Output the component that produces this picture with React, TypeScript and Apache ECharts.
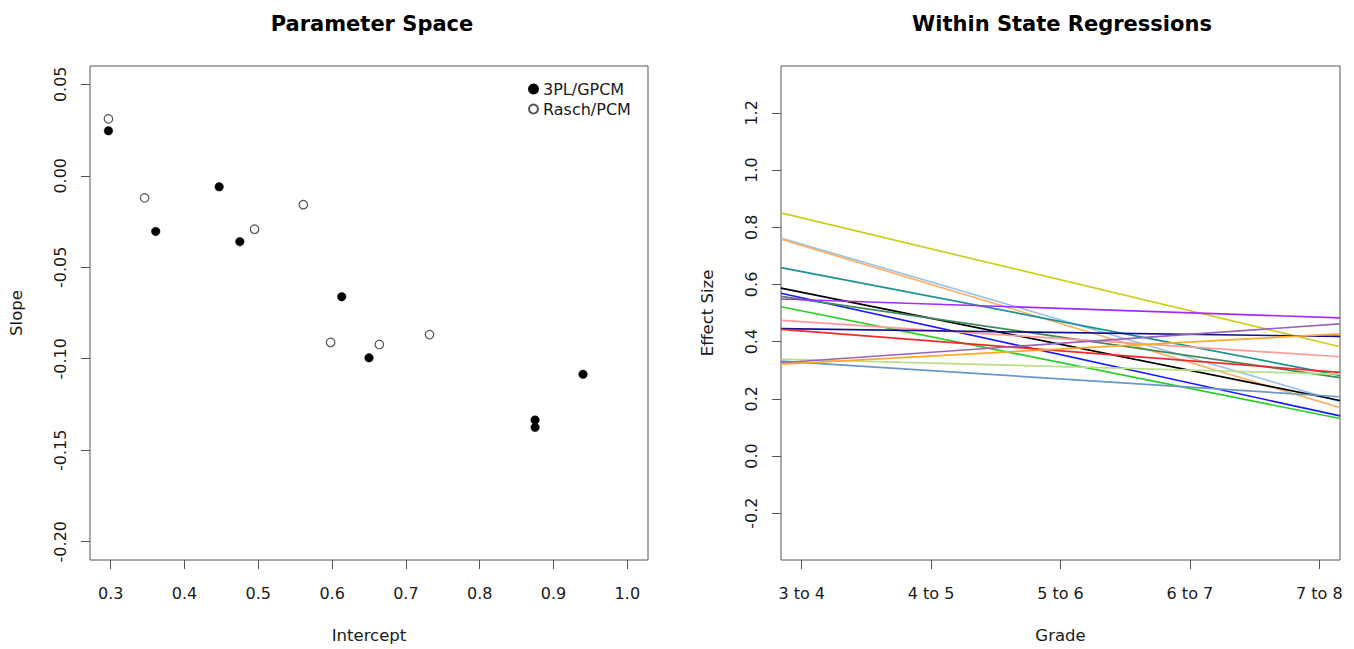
import React, { useEffect, useRef } from "react";
import * as echarts from "echarts";

// ---------- Data ----------
const LEFT_TITLE = "Parameter Space";
const RIGHT_TITLE = "Within State Regressions";

const INTERCEPT_TICKS = [0.3, 0.4, 0.5, 0.6, 0.7, 0.8, 0.9, 1.0];
const SLOPE_TICKS = [-0.2, -0.15, -0.1, -0.05, 0.0, 0.05];

const GPCM_INTERCEPT = [0.297, 0.361, 0.447, 0.475, 0.613, 0.65, 0.875, 0.875, 0.94];
const GPCM_SLOPE = [0.0246, -0.0304, -0.006, -0.036, -0.0661, -0.0995, -0.1335, -0.1375, -0.1085];

const RASCH_INTERCEPT = [0.297, 0.346, 0.495, 0.561, 0.598, 0.664, 0.732];
const RASCH_SLOPE = [0.0311, -0.0121, -0.0292, -0.0158, -0.0911, -0.0922, -0.0868];

const GRADE_LABELS = ["3 to 4", "4 to 5", "5 to 6", "6 to 7", "7 to 8"];
const GRADE_POS = [1, 2, 3, 4, 5];
const EFFECT_TICKS = [-0.2, 0.0, 0.2, 0.4, 0.6, 0.8, 1.0, 1.2];

// regression lines, values where each line meets the left and right plot edges
const LINE_COLORS = [
  "#CDCD1F", "#9CC4E4", "#FDB26B", "#199393", "#000000", "#1A1AFF", "#3D8B5A", "#A52AFF",
  "#25D025", "#FF9A9A", "#10108A", "#F02A2A", "#B8E08A", "#6A98C8", "#9B62B8", "#FFA92A",
];
const LINE_START = [0.85, 0.762, 0.758, 0.659, 0.587, 0.569, 0.558, 0.549, 0.522, 0.474, 0.445, 0.443, 0.339, 0.332, 0.326, 0.321];
const LINE_END = [0.382, 0.19, 0.169, 0.282, 0.194, 0.14, 0.274, 0.483, 0.131, 0.347, 0.418, 0.292, 0.286, 0.207, 0.462, 0.427];

// ---------- Axis ranges (R style 4% padding) ----------
const LX_MIN = 0.272, LX_MAX = 1.028;
const LY_MIN = -0.21, LY_MAX = 0.06;
const RX_MIN = 0.84, RX_MAX = 5.16;
const RY_MIN = -0.364, RY_MAX = 1.364;

const FONT = "DejaVu Sans, Verdana, sans-serif";
const BOX = "#555555";
const TXT = "#1a1a1a";

export default function App() {
  const ref = useRef<HTMLDivElement>(null);

  useEffect(() => {
    if (!ref.current) return;
    const chart = echarts.init(ref.current, undefined, { renderer: "svg" });

    const tickStyle = { show: true, length: 9, inside: false, lineStyle: { color: BOX, width: 1 } };
    const labelBase = { color: TXT, fontSize: 16, fontFamily: FONT };
    const nameBase = { color: TXT, fontSize: 16.5, fontFamily: FONT };
    const noLine = { show: false, onZero: false };

    const lineSeries = LINE_COLORS.map((c, i) => ({
      type: "line",
      xAxisIndex: 1,
      yAxisIndex: 1,
      data: [
        [RX_MIN, LINE_START[i]],
        [RX_MAX, LINE_END[i]],
      ],
      symbol: "none",
      lineStyle: { color: c, width: 1.7 },
      silent: true,
      z: 2,
    }));

    const option: any = {
      animation: false,
      backgroundColor: "#ffffff",
      title: [
        {
          text: LEFT_TITLE,
          left: 367,
          top: 8,
          textAlign: "center",
          textStyle: { fontFamily: FONT, fontWeight: "bold", fontSize: 21, color: "#000" },
        },
        {
          text: RIGHT_TITLE,
          left: 1057,
          top: 8,
          textAlign: "center",
          textStyle: { fontFamily: FONT, fontWeight: "bold", fontSize: 21, color: "#000" },
        },
      ],
      legend: {
        left: 523,
        top: 76,
        orient: "vertical",
        itemWidth: 9,
        itemHeight: 9,
        itemGap: 4,
        textStyle: { fontFamily: FONT, fontSize: 16, color: TXT, lineHeight: 16 },
        data: ["3PL/GPCM", "Rasch/PCM"],
      },
      grid: [
        { left: 90, top: 66, width: 558, height: 496, show: true, borderColor: BOX, borderWidth: 1, backgroundColor: "#fff" },
        { left: 781, top: 66, width: 559, height: 496, show: true, borderColor: BOX, borderWidth: 1, backgroundColor: "#fff" },
      ],
      xAxis: [
        {
          type: "value",
          gridIndex: 0,
          min: LX_MIN,
          max: LX_MAX,
          axisLine: noLine,
          splitLine: { show: false },
          axisTick: { ...tickStyle, customValues: INTERCEPT_TICKS },
          axisLabel: { ...labelBase, margin: 25, customValues: INTERCEPT_TICKS, formatter: (v: number) => v.toFixed(1) },
          name: "Intercept",
          nameLocation: "middle",
          nameGap: 67,
          nameTextStyle: nameBase,
        },
        {
          type: "value",
          gridIndex: 1,
          min: RX_MIN,
          max: RX_MAX,
          axisLine: noLine,
          splitLine: { show: false },
          axisTick: { ...tickStyle, customValues: GRADE_POS },
          axisLabel: {
            ...labelBase,
            margin: 25,
            customValues: GRADE_POS,
            formatter: (v: number) => GRADE_LABELS[Math.round(v) - 1] ?? "",
          },
          name: "Grade",
          nameLocation: "middle",
          nameGap: 67,
          nameTextStyle: nameBase,
        },
      ],
      yAxis: [
        {
          type: "value",
          gridIndex: 0,
          min: LY_MIN,
          max: LY_MAX,
          axisLine: noLine,
          splitLine: { show: false },
          axisTick: { ...tickStyle, customValues: SLOPE_TICKS },
          axisLabel: { ...labelBase, margin: 22, rotate: 90, customValues: SLOPE_TICKS, formatter: (v: number) => v.toFixed(2) },
          name: "Slope",
          nameLocation: "middle",
          nameGap: 65,
          nameRotate: 90,
          nameTextStyle: nameBase,
        },
        {
          type: "value",
          gridIndex: 1,
          min: RY_MIN,
          max: RY_MAX,
          axisLine: noLine,
          splitLine: { show: false },
          axisTick: { ...tickStyle, customValues: EFFECT_TICKS },
          axisLabel: { ...labelBase, margin: 22, rotate: 90, customValues: EFFECT_TICKS, formatter: (v: number) => v.toFixed(1) },
          name: "Effect Size",
          nameLocation: "middle",
          nameGap: 65,
          nameRotate: 90,
          nameTextStyle: nameBase,
        },
      ],
      series: [
        {
          name: "3PL/GPCM",
          type: "scatter",
          xAxisIndex: 0,
          yAxisIndex: 0,
          symbol: "circle",
          symbolSize: 8.5,
          itemStyle: { color: "#000000", borderColor: "#000000", borderWidth: 0.5, opacity: 1 },
          data: GPCM_INTERCEPT.map((x, i) => [x, GPCM_SLOPE[i]]),
        },
        {
          name: "Rasch/PCM",
          type: "scatter",
          xAxisIndex: 0,
          yAxisIndex: 0,
          symbol: "circle",
          symbolSize: 8.5,
          itemStyle: { color: "#ffffff", borderColor: "#555555", borderWidth: 1.2, opacity: 1 },
          data: RASCH_INTERCEPT.map((x, i) => [x, RASCH_SLOPE[i]]),
        },
        ...lineSeries,
      ],
    };

    chart.setOption(option);
    return () => chart.dispose();
  }, []);

  return (
    <div
      ref={ref}
      style={{ position: "fixed", left: 0, top: 0, width: 1354, height: 649, background: "#fff" }}
    />
  );
}
